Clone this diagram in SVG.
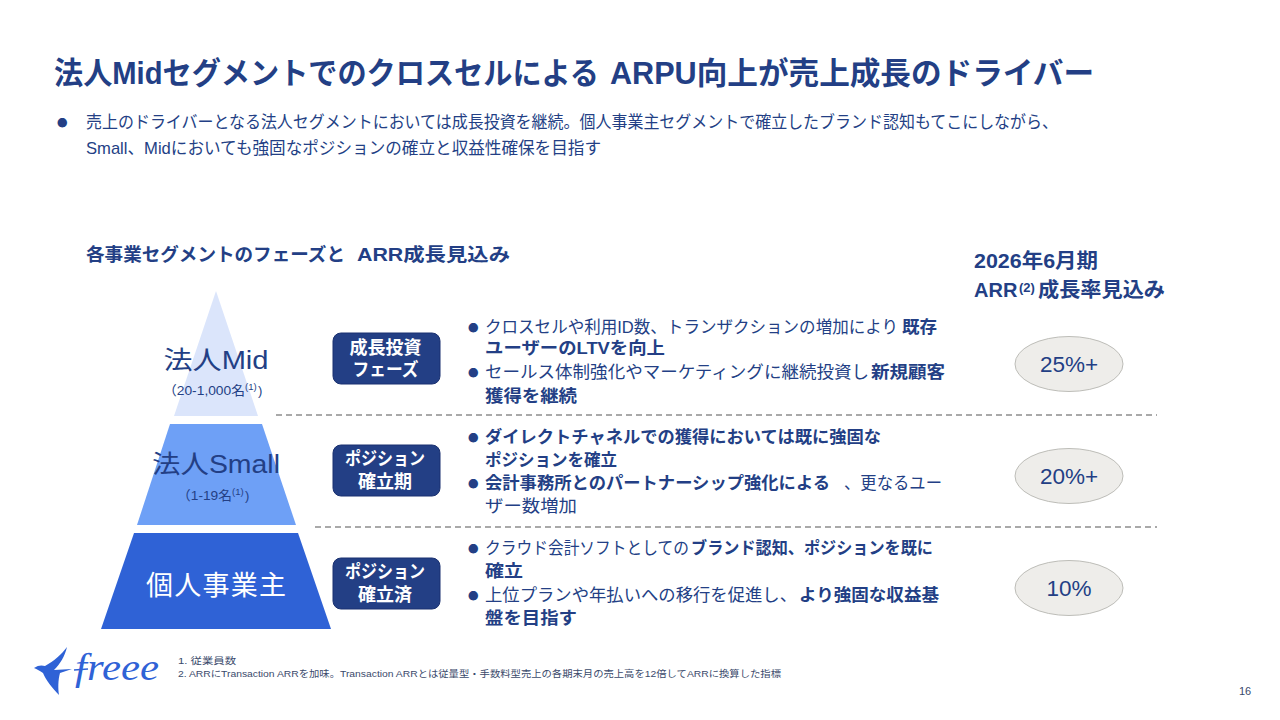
<svg xmlns="http://www.w3.org/2000/svg" width="1280" height="720" viewBox="0 0 1280 720">
<style>
text{font-family:"Liberation Sans","Noto Sans CJK JP",sans-serif;fill:#233f85}
.b{font-weight:700}
.body{font-size:17px}
.sm{font-size:9.5px;fill:#3a4a6b}
.badge{fill:#233f85;stroke:#1b3170;stroke-width:1}
.bt{font-size:18px;font-weight:700;fill:#fff;text-anchor:middle}
.ov{fill:#eeedea;stroke:#bdbdb8;stroke-width:1}
.ovt{font-size:22.5px;text-anchor:middle}
.dash{stroke:#555;stroke-width:1.2;stroke-dasharray:6 4;fill:none}
.dot{font-size:10.5px;font-family:"Noto Sans CJK JP",sans-serif}
</style>
<rect width="1280" height="720" fill="#fff"/>
<g id="title">
<text class="b" x="54" y="84" font-size="30.5" textLength="545" lengthAdjust="spacingAndGlyphs">法人Midセグメントでのクロスセルによる</text>
<text class="b" x="610" y="84" font-size="30.5" textLength="484" lengthAdjust="spacingAndGlyphs">ARPU向上が売上成長のドライバー</text>
</g>
<g id="intro">
<text x="57" y="127" class="dot">●</text>
<text x="86" y="128" class="body" textLength="972" lengthAdjust="spacingAndGlyphs">売上のドライバーとなる法人セグメントにおいては成長投資を継続。個人事業主セグメントで確立したブランド認知もてこにしながら、</text>
<text x="86" y="154" class="body" textLength="515" lengthAdjust="spacingAndGlyphs">Small、Midにおいても強固なポジションの確立と収益性確保を目指す</text>
</g>
<g id="subtitle">
<text class="b" x="86" y="261" font-size="18.5" textLength="259" lengthAdjust="spacingAndGlyphs">各事業セグメントのフェーズと</text>
<text class="b" x="357" y="261" font-size="18.5" textLength="153" lengthAdjust="spacingAndGlyphs">ARR成長見込み</text>
</g>
<g id="header-arr">
<text class="b" x="974" y="268" font-size="20" textLength="124" lengthAdjust="spacingAndGlyphs">2026年6月期</text>
<text class="b" x="974" y="297" font-size="20">ARR</text>
<text x="1019" y="292" font-size="13" class="b">(2)</text>
<text class="b" x="1038" y="297" font-size="20" textLength="127" lengthAdjust="spacingAndGlyphs">成長率見込み</text>
</g>
<g id="connectors">
<line class="dash" x1="276" y1="415" x2="1157" y2="415"/>
<line class="dash" x1="315" y1="527" x2="1157" y2="527"/>
</g>
<g id="tier-mid">
<polygon points="216,291 258,416 174,416" fill="#dbe5fb"/>
<text x="216" y="369" font-size="25.5" text-anchor="middle" textLength="105" lengthAdjust="spacingAndGlyphs">法人Mid</text>
<text x="163" y="395" font-size="13" textLength="82" lengthAdjust="spacingAndGlyphs">（20-1,000名</text>
<text x="245" y="390" font-size="9.5">(1)</text><text x="258" y="395" font-size="13">)</text>
</g>
<g id="tier-small">
<polygon points="170,424 262,424 296,525 137,525" fill="#6ea0f6"/>
<text x="216" y="473" font-size="25.5" text-anchor="middle" textLength="128" lengthAdjust="spacingAndGlyphs">法人Small</text>
<text x="177" y="500" font-size="13" textLength="55" lengthAdjust="spacingAndGlyphs">（1-19名</text>
<text x="232" y="495" font-size="9.5">(1)</text><text x="245" y="500" font-size="13">)</text>
</g>
<g id="tier-individual">
<polygon points="134,533 298,533 331,629 101,629" fill="#2f62d6"/>
<text x="216" y="595" font-size="27" text-anchor="middle" style="fill:#fff" textLength="140" lengthAdjust="spacing">個人事業主</text>
</g>
<g id="phase-1">
<rect class="badge" x="333" y="333" width="107" height="51" rx="8"/>
<text class="bt" x="385.500" y="354">成長投資</text><text class="bt" x="385.500" y="376" textLength="66" lengthAdjust="spacingAndGlyphs">フェーズ</text>
</g>
<g id="phase-2">
<rect class="badge" x="333" y="445" width="107" height="51" rx="8"/>
<text class="bt" x="385" y="465" textLength="80" lengthAdjust="spacingAndGlyphs">ポジション</text><text class="bt" x="385" y="488">確立期</text>
</g>
<g id="phase-3">
<rect class="badge" x="333" y="558" width="107" height="51" rx="8"/>
<text class="bt" x="385" y="578" textLength="80" lengthAdjust="spacingAndGlyphs">ポジション</text><text class="bt" x="385" y="601">確立済</text>
</g>
<g id="desc-1">
<text x="468" y="332" class="dot">●</text>
<text x="485" y="333" class="body" textLength="413" lengthAdjust="spacingAndGlyphs">クロスセルや利用ID数、トランザクションの増加により</text>
<text x="902" y="333" class="body b" textLength="35" lengthAdjust="spacingAndGlyphs">既存</text>
<text x="485" y="354" class="body b" textLength="180" lengthAdjust="spacingAndGlyphs">ユーザーのLTVを向上</text>
<text x="468" y="377" class="dot">●</text>
<text x="485" y="378" class="body" textLength="384" lengthAdjust="spacingAndGlyphs">セールス体制強化やマーケティングに継続投資し</text>
<text x="871" y="378" class="body b" textLength="74" lengthAdjust="spacingAndGlyphs">新規顧客</text>
<text x="485" y="402" class="body b" textLength="92" lengthAdjust="spacingAndGlyphs">獲得を継続</text>
</g>
<g id="desc-2">
<text x="468" y="442" class="dot">●</text>
<text x="485" y="443" class="body b" textLength="396" lengthAdjust="spacingAndGlyphs">ダイレクトチャネルでの獲得においては既に強固な</text>
<text x="485" y="466" class="body b" textLength="132" lengthAdjust="spacingAndGlyphs">ポジションを確立</text>
<text x="468" y="488" class="dot">●</text>
<text x="485" y="489" class="body b" textLength="345" lengthAdjust="spacingAndGlyphs">会計事務所とのパートナーシップ強化による</text>
<text x="844" y="489" class="body" textLength="98" lengthAdjust="spacingAndGlyphs">、更なるユー</text>
<text x="485" y="512" class="body" textLength="92" lengthAdjust="spacingAndGlyphs">ザー数増加</text>
</g>
<g id="desc-3">
<text x="468" y="553" class="dot">●</text>
<text x="485" y="554" class="body" textLength="204" lengthAdjust="spacingAndGlyphs">クラウド会計ソフトとしての</text>
<text x="691" y="554" class="body b" textLength="242" lengthAdjust="spacingAndGlyphs">ブランド認知、ポジションを既に</text>
<text x="485" y="577" class="body b" textLength="38" lengthAdjust="spacingAndGlyphs">確立</text>
<text x="468" y="600" class="dot">●</text>
<text x="485" y="601" class="body" textLength="312" lengthAdjust="spacingAndGlyphs">上位プランや年払いへの移行を促進し、</text>
<text x="799" y="601" class="body b" textLength="140" lengthAdjust="spacingAndGlyphs">より強固な収益基</text>
<text x="485" y="624" class="body b" textLength="92" lengthAdjust="spacingAndGlyphs">盤を目指す</text>
</g>
<g id="rate-1"><ellipse class="ov" cx="1069" cy="364" rx="54" ry="27.5"/><text class="ovt" x="1069" y="372">25%+</text></g>
<g id="rate-2"><ellipse class="ov" cx="1069" cy="476" rx="54" ry="27.5"/><text class="ovt" x="1069" y="484">20%+</text></g>
<g id="rate-3"><ellipse class="ov" cx="1069" cy="588" rx="54" ry="27.5"/><text class="ovt" x="1069" y="596">10%</text></g>
<g id="logo">
<path d="M34 668 C38 665 42 665 45 666 C54 661 62 654 67 647 C65 656 60 664 54 670 L72 669 L60 673 C58 680 58 689 59 695 C52 688 46 680 43 673 C40 671 37 669 34 668Z" fill="#2f62d6"/>
<line x1="74" y1="670" x2="88" y2="669" stroke="#2f62d6" stroke-width="1.5"/>
<text x="75" y="680" font-size="38" font-style="italic" style="font-family:'Liberation Serif',serif;fill:#2f62d6" textLength="84" lengthAdjust="spacingAndGlyphs">freee</text>
</g>
<g id="notes">
<text class="sm" x="178" y="664" textLength="58" lengthAdjust="spacingAndGlyphs">1.  従業員数</text>
<text class="sm" x="178" y="677" textLength="603" lengthAdjust="spacingAndGlyphs">2.  ARRにTransaction ARRを加味。Transaction ARRとは従量型・手数料型売上の各期末月の売上高を12倍してARRに換算した指標</text>
</g>
<text x="1239" y="695" font-size="11" style="fill:#3a4a6b">16</text>
</svg>
